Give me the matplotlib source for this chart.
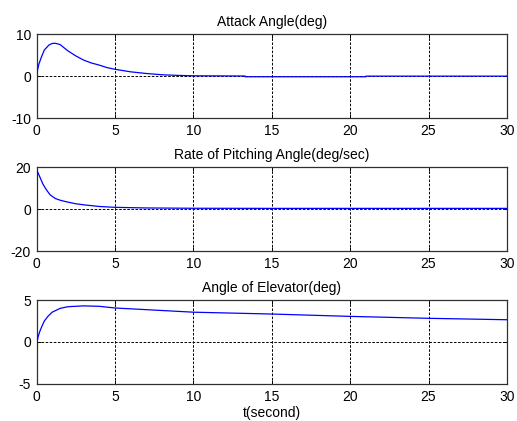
import numpy as np
import matplotlib
matplotlib.use("Agg")
from matplotlib import pyplot as plt

# time samples (s)
t_attack = [0, 0.05, 0.15, 0.3, 0.5, 0.8, 1.0, 1.2, 1.5, 2.0, 2.5, 3.0, 3.5, 4.0, 4.5, 5.0,
            6.0, 7.0, 8.0, 9.0, 10.0, 13.3, 13.31, 21.0, 21.01, 30.0]
attack = [0, 1.2, 2.8, 4.4, 6.2, 7.4, 7.75, 7.8, 7.5, 6.0, 4.8, 3.8, 3.1, 2.6, 2.0, 1.6,
          1.0, 0.6, 0.3, 0.15, 0.05, 0.0, -0.18, -0.18, -0.03, -0.03]

t_pitch = [0, 0.02, 0.05, 0.2, 0.4, 0.6, 0.86, 1.2, 1.5, 1.93, 2.5, 3.0, 4.0, 5.0,
           7.0, 10.0, 15.0, 20.0, 25.0, 30.0]
pitch = [0, 17.0, 18.0, 15.5, 12.0, 9.5, 6.8, 5.0, 4.2, 3.4, 2.5, 2.0, 1.2, 0.8,
         0.5, 0.35, 0.3, 0.3, 0.3, 0.3]

t_elev = [0, 0.03, 0.1, 0.2, 0.35, 0.5, 0.75, 1.0, 1.5, 2.0, 3.0, 4.0, 5.0,
          7.5, 10.0, 15.0, 20.0, 25.0, 30.0]
elev = [-0.8, 0.0, 0.6, 1.2, 1.9, 2.5, 3.1, 3.55, 4.0, 4.2, 4.3, 4.25, 4.05,
        3.8, 3.55, 3.33, 3.05, 2.82, 2.65]

titles = ['Attack Angle(deg)', 'Rate of Pitching Angle(deg/sec)', 'Angle of Elevator(deg)']
ylims = [(-10, 10), (-20, 20), (-5, 5)]
xticks = [0, 5, 10, 15, 20, 25, 30]

plt.rcParams['font.family'] = ['Liberation Sans', 'DejaVu Sans']
plt.rcParams['font.size'] = 10
plt.rcParams['axes.unicode_minus'] = False

fig = plt.figure(figsize=(5.17, 4.21), dpi=100)
bottoms = [0.7197, 0.4038, 0.0879]
series = [(t_attack, attack), (t_pitch, pitch), (t_elev, elev)]

for i in range(3):
    ax = fig.add_axes([0.0706, bottoms[i], 0.910, 0.1995])
    tt, yy = series[i]
    ax.plot(tt, yy, color='#0000ff', lw=0.9, zorder=3)
    lo, hi = ylims[i]
    ax.set_xlim(0, 30)
    ax.set_ylim(lo, hi)
    ax.set_xticks(xticks)
    ax.set_yticks([lo, 0, hi])
    ax.grid(True, color='black', lw=0.7, linestyle=(0, (2.6, 1.6)), zorder=2)
    ax.tick_params(direction='in', length=3, width=0.7, pad=4, labelsize=10,
                   top=True, right=True)
    for s in ax.spines.values():
        s.set_linewidth(0.9)
        s.set_color('#303030')
    ax.set_title(titles[i], fontsize=10, pad=6)

ax.set_xlabel('t(second)', fontsize=10, labelpad=2)

plt.savefig('out.png', dpi=100)
